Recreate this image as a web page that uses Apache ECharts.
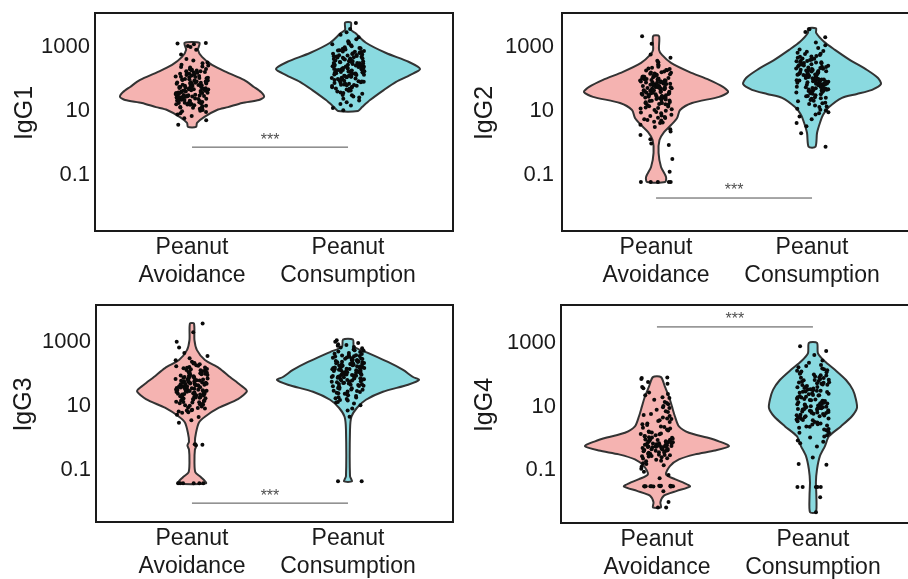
<!DOCTYPE html>
<html>
<head>
<meta charset="utf-8">
<script src="https://cdn.jsdelivr.net/npm/echarts@6/dist/echarts.min.js"></script>
<style>
html,body{margin:0;padding:0;background:#fff;}
#chart{width:908px;height:579px;}
</style>
</head>
<body>
<div id="chart"></div>
<script>
// ---------- DATA ----------
const categories = ['Peanut\nAvoidance', 'Peanut\nConsumption'];
const panelNames = ['IgG1', 'IgG2', 'IgG3', 'IgG4'];
// y values are log10 of the antibody level
const yTickValues = [-1, 1, 3];
const yTickLabels = ['0.1', '10', '1000'];

// violin outlines: [log10 level, half width in x units]
const igg1AvoidViolin = [[3.13,0.048],[2.91,0.038],[2.69,0.064],[2.44,0.128],[2.22,0.218],[1.97,0.333],[1.75,0.397],[1.59,0.442],[1.44,0.462],[1.34,0.429],[1.25,0.321],[1.12,0.231],[1.03,0.16],[0.81,0.077],[0.63,0.032],[0.5,0.026]];
const igg1ConsViolin = [[3.76,0.019],[3.53,0.019],[3.44,0.045],[3.13,0.115],[2.81,0.244],[2.53,0.391],[2.31,0.462],[2.12,0.397],[1.91,0.308],[1.66,0.231],[1.34,0.141],[1.12,0.09],[1.0,0.064]];
const igg2AvoidViolin = [[3.34,0.019],[2.91,0.019],[2.75,0.038],[2.5,0.096],[2.22,0.212],[1.97,0.34],[1.75,0.429],[1.59,0.462],[1.44,0.404],[1.25,0.231],[1.03,0.154],[0.78,0.135],[0.56,0.096],[0.34,0.051],[0.09,0.022],[-0.31,0.016],[-0.75,0.032],[-1.06,0.064],[-1.22,0.058]];
const igg2ConsViolin = [[3.58,0.026],[3.44,0.026],[3.16,0.077],[2.91,0.147],[2.59,0.244],[2.28,0.353],[2.03,0.423],[1.84,0.442],[1.66,0.385],[1.53,0.288],[1.41,0.192],[1.12,0.109],[0.88,0.071],[0.63,0.051],[0.31,0.032],[-0.12,0.022]];
const igg3AvoidViolin = [[3.57,0.013],[3.05,0.016],[2.74,0.032],[2.43,0.083],[2.18,0.173],[1.9,0.244],[1.66,0.308],[1.46,0.352],[1.21,0.295],[0.94,0.173],[0.66,0.083],[0.48,0.045],[0.16,0.026],[-0.12,0.019],[-0.24,0.029],[-0.37,0.019],[-0.77,0.016],[-1.08,0.022],[-1.23,0.058],[-1.42,0.09]];
const igg3ConsViolin = [[3.07,0.032],[2.85,0.038],[2.68,0.115],[2.37,0.256],[2.12,0.353],[1.9,0.417],[1.81,0.455],[1.66,0.385],[1.44,0.224],[1.19,0.115],[0.94,0.058],[0.66,0.022],[0.26,0.013],[-1.2,0.013],[-1.36,0.026]];
const igg4AvoidViolin = [[1.93,0.026],[1.63,0.051],[1.32,0.077],[1.01,0.096],[0.7,0.115],[0.38,0.141],[0.18,0.205],[0.03,0.321],[-0.09,0.397],[-0.24,0.462],[-0.38,0.372],[-0.5,0.244],[-0.66,0.141],[-0.87,0.083],[-1.13,0.058],[-1.28,0.115],[-1.41,0.179],[-1.51,0.212],[-1.65,0.128],[-1.8,0.045],[-2.01,0.022],[-2.17,0.026]];
const igg4ConsViolin = [[3.01,0.026],[2.68,0.032],[2.42,0.077],[2.16,0.141],[1.84,0.212],[1.53,0.256],[1.22,0.276],[0.96,0.282],[0.7,0.25],[0.38,0.179],[0.07,0.103],[-0.24,0.077],[-0.55,0.045],[-0.97,0.026],[-1.38,0.019],[-1.8,0.022],[-2.32,0.019]];

// individual subjects (log10 level)
const igg1AvoidPts = [3.12,3.11,3.08,3.03,3.0,2.91,2.76,2.62,2.58,2.51,2.49,2.44,2.42,2.39,2.36,2.31,2.3,2.26,2.24,2.24,2.2,2.19,2.16,2.16,2.12,2.11,2.08,2.07,2.05,2.04,2.03,2.0,1.99,1.98,1.95,1.95,1.93,1.9,1.88,1.88,1.86,1.84,1.82,1.81,1.8,1.79,1.78,1.75,1.75,1.73,1.72,1.7,1.68,1.68,1.66,1.65,1.63,1.61,1.6,1.59,1.58,1.56,1.56,1.54,1.52,1.51,1.5,1.49,1.47,1.46,1.45,1.43,1.42,1.41,1.39,1.37,1.37,1.35,1.33,1.31,1.3,1.29,1.26,1.25,1.23,1.22,1.2,1.19,1.16,1.15,1.12,1.1,1.07,1.05,1.01,0.97,0.93,0.89,0.84,0.77,0.71,0.57,
  2.37,2.29,2.22,2.18,2.14,2.09,2.02,1.97,1.92,1.89,1.85,1.83,1.77,1.74,1.71,1.69,1.67,1.64,1.62,1.57,1.55,1.53,1.48,1.44,1.4,1.38,1.34,1.32,1.28,1.24,1.21,1.18,1.14,1.11,1.06,1.03,0.99,1.87,1.76,1.58,1.47,1.36,1.27,1.7,1.9,2.06,2.27,1.63,1.52,1.43];
const igg1ConsPts = [3.75,3.56,3.46,3.38,3.3,3.24,3.18,3.15,3.11,3.08,3.05,3.02,2.99,2.97,2.94,2.92,2.9,2.87,2.85,2.83,2.81,2.79,2.78,2.76,2.74,2.72,2.7,2.69,2.67,2.66,2.64,2.63,2.61,2.59,2.58,2.56,2.55,2.53,2.52,2.5,2.49,2.47,2.46,2.44,2.43,2.42,2.41,2.39,2.38,2.37,2.35,2.34,2.33,2.31,2.3,2.29,2.28,2.26,2.25,2.23,2.22,2.21,2.19,2.18,2.16,2.14,2.13,2.11,2.09,2.08,2.06,2.05,2.03,2.01,1.98,1.96,1.93,1.91,1.89,1.87,1.85,1.83,1.81,1.79,1.76,1.73,1.7,1.67,1.64,1.61,1.58,1.54,1.49,1.45,1.42,1.38,1.33,1.27,1.22,1.17,1.09,1.02,
  2.96,2.89,2.84,2.8,2.75,2.71,2.68,2.65,2.6,2.57,2.54,2.51,2.48,2.45,2.4,2.37,2.36,2.32,2.27,2.24,2.2,2.17,2.15,2.12,2.07,2.04,2.0,1.97,1.94,1.9,1.86,1.82,1.78,1.74,1.69,1.63,1.56,1.5,2.62,2.44,2.33,2.5,2.28,2.55,2.73,2.86,2.19,2.1,1.92,1.8];
const igg2AvoidPts = [3.33,3.1,2.76,2.66,2.57,2.52,2.46,2.42,2.38,2.35,2.31,2.28,2.26,2.23,2.21,2.19,2.17,2.15,2.14,2.12,2.1,2.08,2.06,2.05,2.03,2.01,1.99,1.98,1.96,1.95,1.93,1.92,1.9,1.89,1.87,1.86,1.84,1.83,1.81,1.8,1.79,1.78,1.76,1.75,1.74,1.72,1.71,1.7,1.68,1.67,1.66,1.64,1.63,1.62,1.61,1.6,1.59,1.57,1.56,1.55,1.53,1.52,1.5,1.49,1.47,1.46,1.44,1.43,1.41,1.4,1.38,1.36,1.33,1.31,1.28,1.26,1.24,1.22,1.2,1.18,1.14,1.11,1.08,1.05,1.01,0.97,0.93,0.88,0.84,0.81,0.78,0.74,0.7,0.66,0.62,0.57,0.5,0.43,0.36,0.25,0.12,-0.02,-0.06,-0.5,-0.9,-1.22,-1.22,-1.22,-1.22,-1.22,
  2.33,2.27,2.2,2.16,2.11,2.07,2.02,1.97,1.94,1.91,1.88,1.85,1.82,1.78,1.77,1.73,1.69,1.65,1.63,1.58,1.54,1.51,1.48,1.45,1.42,1.37,1.32,1.27,1.21,1.15,1.09,1.03,0.95,0.86,0.79,0.72,0.64,1.7,1.6,1.8,1.9,2.0,1.55,1.75,1.85,1.65,1.35,1.25];
const igg2ConsPts = [3.55,3.47,3.3,3.14,3.05,2.97,2.92,2.87,2.82,2.78,2.75,2.72,2.69,2.66,2.64,2.61,2.59,2.57,2.55,2.53,2.51,2.49,2.47,2.45,2.43,2.41,2.39,2.38,2.36,2.34,2.32,2.31,2.29,2.27,2.25,2.24,2.22,2.21,2.19,2.18,2.16,2.15,2.13,2.12,2.1,2.09,2.07,2.06,2.05,2.03,2.02,2.01,1.99,1.98,1.97,1.95,1.94,1.93,1.91,1.9,1.88,1.87,1.86,1.84,1.83,1.82,1.81,1.79,1.77,1.76,1.74,1.72,1.7,1.69,1.67,1.65,1.64,1.62,1.61,1.58,1.55,1.52,1.49,1.46,1.43,1.41,1.38,1.34,1.3,1.26,1.22,1.17,1.12,1.07,1.02,0.96,0.89,0.83,0.74,0.62,0.52,0.3,-0.12,
  2.85,2.79,2.7,2.63,2.56,2.5,2.46,2.42,2.37,2.33,2.28,2.23,2.2,2.17,2.14,2.11,2.08,2.04,2.0,1.96,1.92,1.89,1.85,1.8,1.78,1.75,1.71,1.66,1.63,1.59,1.54,1.47,1.4,1.32,1.24,1.14,1.04,0.93,2.26,2.12,1.98,1.88,1.83,2.35,2.52,1.73,1.68,1.95];
const igg3AvoidPts = [3.57,3.3,3.0,2.82,2.65,2.56,2.49,2.42,2.38,2.34,2.3,2.27,2.24,2.21,2.19,2.17,2.14,2.12,2.1,2.08,2.06,2.03,2.01,1.99,1.97,1.96,1.94,1.92,1.9,1.88,1.87,1.85,1.84,1.82,1.8,1.79,1.77,1.76,1.74,1.73,1.71,1.7,1.68,1.67,1.66,1.64,1.63,1.62,1.61,1.59,1.58,1.56,1.55,1.54,1.53,1.51,1.5,1.49,1.47,1.46,1.45,1.43,1.42,1.41,1.39,1.37,1.36,1.35,1.33,1.32,1.3,1.28,1.27,1.25,1.23,1.22,1.2,1.19,1.17,1.15,1.13,1.12,1.1,1.08,1.06,1.04,1.02,0.98,0.95,0.92,0.88,0.85,0.82,0.78,0.72,0.65,0.55,0.47,-0.2,-0.22,-0.23,-1.42,-1.42,-1.42,-1.42,-1.42,-1.42,
  2.32,2.25,2.2,2.15,2.11,2.05,2.0,1.95,1.91,1.86,1.83,1.78,1.75,1.72,1.69,1.65,1.6,1.57,1.52,1.48,1.44,1.4,1.38,1.34,1.31,1.26,1.21,1.16,1.11,1.05,1.0,0.93,0.86,0.8,1.5,1.6,1.7,1.55,1.45,1.35,1.8,1.9,1.65,1.24,1.47,2.02];
const igg3ConsPts = [3.05,3.0,2.96,2.92,2.88,2.84,2.8,2.76,2.72,2.68,2.65,2.62,2.59,2.57,2.55,2.53,2.51,2.5,2.48,2.46,2.45,2.43,2.42,2.41,2.39,2.38,2.36,2.35,2.34,2.32,2.31,2.3,2.28,2.27,2.26,2.24,2.23,2.21,2.19,2.18,2.17,2.16,2.14,2.13,2.12,2.11,2.09,2.08,2.07,2.06,2.04,2.03,2.01,1.99,1.98,1.97,1.96,1.95,1.93,1.92,1.91,1.9,1.88,1.87,1.86,1.85,1.83,1.82,1.81,1.79,1.77,1.75,1.74,1.72,1.7,1.68,1.67,1.65,1.63,1.62,1.6,1.58,1.55,1.53,1.5,1.47,1.45,1.43,1.41,1.38,1.35,1.31,1.27,1.24,1.21,1.17,1.12,1.07,1.02,0.92,0.85,0.66,-1.36,-1.36,
  2.9,2.82,2.74,2.7,2.63,2.58,2.54,2.49,2.44,2.4,2.37,2.33,2.29,2.25,2.22,2.2,2.15,2.1,2.05,2.02,2.0,1.94,1.89,1.84,1.8,1.76,1.71,1.66,1.61,1.56,1.51,1.46,1.39,1.33,1.26,1.18,1.1,2.47,2.36,2.26,2.14,2.06,1.97,2.56,2.31,2.18];
const igg4AvoidPts = [1.92,1.9,1.87,1.72,1.58,1.45,1.36,1.3,1.22,1.15,1.08,1.02,0.96,0.9,0.83,0.77,0.71,0.66,0.61,0.57,0.52,0.47,0.42,0.38,0.34,0.31,0.28,0.25,0.22,0.19,0.16,0.13,0.1,0.07,0.04,0.02,-0.01,-0.03,-0.04,-0.06,-0.07,-0.09,-0.1,-0.12,-0.13,-0.14,-0.16,-0.17,-0.18,-0.19,-0.21,-0.22,-0.23,-0.24,-0.25,-0.26,-0.27,-0.28,-0.29,-0.3,-0.31,-0.33,-0.34,-0.36,-0.37,-0.39,-0.41,-0.43,-0.45,-0.47,-0.49,-0.51,-0.53,-0.55,-0.57,-0.59,-0.62,-0.67,-0.72,-0.78,-0.84,-0.89,-0.95,-1.05,-1.15,-1.25,-1.49,-1.5,-1.5,-1.51,-1.5,-1.49,-1.5,-1.51,-1.5,-1.5,-1.66,-2.0,-2.17,-2.17,
  1.78,1.62,1.4,1.27,1.12,0.98,0.86,0.74,0.63,0.55,0.45,0.36,0.27,0.2,0.14,0.08,0.03,-0.02,-0.05,-0.08,-0.11,-0.15,-0.2,-0.22,-0.25,-0.27,-0.3,-0.32,-0.35,-0.38,-0.4,-0.44,-0.48,-0.52,-0.56,-0.63,-0.7,-0.8,-1.5,-1.49,-1.51,-1.5,-0.18,-0.24,-0.28,-0.12];
const igg4ConsPts = [2.9,2.75,2.63,2.45,2.38,2.31,2.24,2.18,2.15,2.11,2.08,2.04,2.01,1.98,1.95,1.93,1.9,1.87,1.85,1.83,1.81,1.79,1.76,1.74,1.72,1.7,1.68,1.65,1.63,1.61,1.59,1.57,1.55,1.52,1.5,1.48,1.46,1.44,1.42,1.39,1.37,1.35,1.33,1.31,1.29,1.27,1.25,1.23,1.21,1.19,1.17,1.16,1.14,1.12,1.1,1.08,1.06,1.04,1.03,1.01,0.99,0.97,0.95,0.93,0.91,0.89,0.87,0.85,0.83,0.82,0.8,0.78,0.75,0.72,0.7,0.67,0.65,0.62,0.6,0.57,0.54,0.5,0.47,0.44,0.41,0.38,0.34,0.3,0.26,0.22,0.17,0.1,0.03,-0.06,-0.15,-0.25,-0.6,-0.8,-0.83,-1.53,-1.53,-1.53,-1.53,-1.53,-1.85,-2.32,
  2.28,2.2,2.13,2.06,1.99,1.91,1.84,1.77,1.69,1.62,1.54,1.47,1.41,1.36,1.3,1.24,1.18,1.13,1.07,1.02,0.98,0.94,0.9,0.86,0.81,0.77,0.73,0.68,0.63,0.58,0.52,0.45,0.37,0.28,0.18,0.06,-0.1,1.0,1.05,0.96,1.11,0.92,1.2,1.5,1.75,0.7];

// significance bars (log10 level of the bar) and labels
const sigLevels = [-0.13, -1.72, -2.04, 3.51];
const sigLabels = ['***', '***', '***', '***'];

// ---------- LAYOUT ----------
const violins = [[igg1AvoidViolin, igg1ConsViolin],[igg2AvoidViolin, igg2ConsViolin],[igg3AvoidViolin, igg3ConsViolin],[igg4AvoidViolin, igg4ConsViolin]];
const points = [[igg1AvoidPts, igg1ConsPts],[igg2AvoidPts, igg2ConsPts],[igg3AvoidPts, igg3ConsPts],[igg4AvoidPts, igg4ConsPts]];
const layout = [
  {grid:{left:95, top:13, width:358, height:218}, x:[0.378, 2.673], y:[-2.75, 4.06], nameGap:57, labelMargin:5},
  {grid:{left:562, top:13, width:355, height:218}, x:[0.397, 2.673], y:[-2.75, 4.06], nameGap:64, labelMargin:8},
  {grid:{left:96, top:305, width:357, height:217}, x:[0.385, 2.673], y:[-2.63, 4.15], nameGap:59, labelMargin:5},
  {grid:{left:561, top:305, width:356, height:218}, x:[0.385, 2.667], y:[-2.66, 4.2], nameGap:63, labelMargin:5}
];
const fills = ['#F5B3B1', '#8ADAE0'];
const FONT = '"Liberation Sans", Arial, Helvetica, sans-serif';
const TXT = '#1a1a1a';

function jitterFrac(i, seed) {
  const s = Math.sin((i + 1) * 12.9898 + seed * 78.233) * 43758.5453;
  return s - Math.floor(s);
}

const grids = [], xAxes = [], yAxes = [], series = [];
layout.forEach((L, p) => {
  grids.push(Object.assign({show:true, borderColor:'#1a1a1a', borderWidth:2, outerBoundsMode:'none', containLabel:false}, L.grid));
  xAxes.push({
    type:'value', gridIndex:p, min:L.x[0], max:L.x[1],
    axisLine:{show:false}, axisTick:{show:false}, splitLine:{show:false},
    axisLabel:{customValues:[1,2], formatter:v => categories[Math.round(v)-1],
      fontSize:23, lineHeight:28, margin:3, color:TXT, fontFamily:FONT}
  });
  yAxes.push({
    type:'value', gridIndex:p, min:L.y[0], max:L.y[1],
    axisLine:{show:false}, axisTick:{show:false}, splitLine:{show:false},
    axisLabel:{customValues:yTickValues, formatter:v => yTickLabels[yTickValues.indexOf(v)],
      fontSize:22, margin:L.labelMargin, color:TXT, fontFamily:FONT},
    name:panelNames[p], nameLocation:'middle', nameGap:L.nameGap,
    nameTextStyle:{fontSize:25, color:TXT, fontFamily:FONT, padding:[0,0,0,18]}
  });
  // violins
  violins[p].forEach((prof, g) => {
    const center = g + 1;
    series.push({
      type:'custom', xAxisIndex:p, yAxisIndex:p, silent:true, z:2,
      data: prof,
      renderItem: (params, api) => {
        if (params.dataIndex !== 0) return null;
        const pts = [];
        prof.forEach(r => pts.push(api.coord([center + r[1], r[0]])));
        for (let k = prof.length - 1; k >= 0; k--) pts.push(api.coord([center - prof[k][1], prof[k][0]]));
        return {type:'polygon', shape:{points:pts, smooth:0.25},
          style:{fill:fills[g], stroke:'#333', lineWidth:2}};
      }
    });
  });
  // jittered points
  points[p].forEach((vals, g) => {
    const center = g + 1;
    series.push({
      type:'scatter', xAxisIndex:p, yAxisIndex:p, silent:true, z:3,
      symbolSize:4, itemStyle:{color:'#0a0a0a', opacity:1},
      data: vals.map((v, i) => [center + (jitterFrac(i, p * 2 + g) - 0.5) * 0.21, v])
    });
  });
  // significance bar
  series.push({
    type:'line', xAxisIndex:p, yAxisIndex:p, silent:true, z:4, symbol:'none',
    lineStyle:{color:'#4d4d4d', width:1}, data:[[1, sigLevels[p]], [2, sigLevels[p]]]
  });
  series.push({
    type:'scatter', xAxisIndex:p, yAxisIndex:p, silent:true, z:4, symbolSize:0,
    data:[[1.5, sigLevels[p]]],
    label:{show:true, formatter:sigLabels[p], position:'top', distance:-1, fontSize:16, color:'#222', fontFamily:FONT}
  });
});

const chart = echarts.init(document.getElementById('chart'), null, {renderer:'canvas'});
chart.setOption({
  animation:false, backgroundColor:'#fff',
  grid:grids, xAxis:xAxes, yAxis:yAxes, series:series
});
</script>
</body>
</html>
